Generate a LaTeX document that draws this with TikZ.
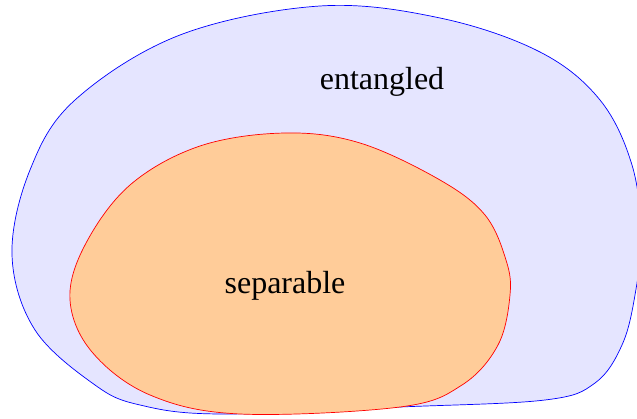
\documentclass[tikz,border=0pt]{standalone}
\usepackage{fontspec}
\setmainfont{Liberation Serif}
\usepackage{xcolor}

\tikzset{
  entset/.style={draw=blue,fill=blue!10,line width=0.7pt},
  sepset/.style={draw=red,fill=orange!40,line width=0.7pt},
  setlabel/.style={font=\fontsize{32}{38}\selectfont,inner sep=0pt}
}

\begin{document}
\begin{tikzpicture}[x=1pt,y=-1pt]
\useasboundingbox (0,0) rectangle (637,419);
\clip (0,0) rectangle (637,419);
% outer set
\path[entset] plot[smooth cycle,tension=0.6] coordinates {
  (320,6) (440,18) (540,52) (600,100) (632,165) (641,235) (635,295)
  (622,345) (595,383) (545,400) (400,407) (220,414) (140,405)
  (95,385) (35,330) (12,255) (30,170) (75,100) (180,35)};
% inner set
\path[sepset] plot[smooth cycle,tension=0.6] coordinates {
  (285,133) (360,143) (440,180) (485,215) (506,260) (510,295)
  (498,345) (462,385) (400,407) (240,414) (150,395) (92,352)
  (70,300) (85,245) (130,185) (200,146)};
\node[setlabel] (entangled) at (382,82) {entangled};
\node[setlabel] (separable) at (285,286) {separable};
\end{tikzpicture}
\end{document}
